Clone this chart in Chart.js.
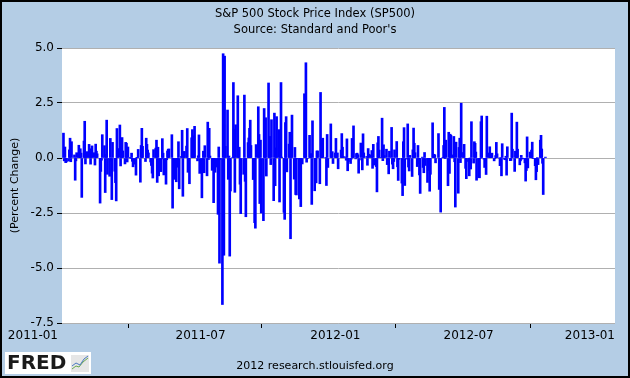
<!DOCTYPE html>
<html>
<head>
<meta charset="utf-8">
<script src="https://cdn.jsdelivr.net/npm/chart.js@4.4.0/dist/chart.umd.min.js"></script>
<style>
  html, body { margin: 0; padding: 0; background: #b4cde5; }
  #wrap { position: relative; width: 630px; height: 378px; }
</style>
</head>
<body>
<div id="wrap"><canvas id="mycanvas" width="630" height="378"></canvas></div>
<script>
// S&P 500 daily percent change, one row per week (Mon..Fri), null = market closed
var weeks2011Start = '2011-01-03';
var pct2011 = [
   1.13, -0.13,  0.50, -0.21, -0.18,
  -0.14,  0.37,  0.90, -0.17,  0.74,
   null,  0.14, -1.01, -0.13,  0.24,
   0.58,  0.03,  0.42,  0.22, -1.79,
   0.77,  1.67, -0.27,  0.24,  0.29,
   0.62,  0.42, -0.28,  0.07,  0.55,
   0.24, -0.32,  0.63,  0.31,  0.19,
   null, -2.05, -0.61, -0.10,  1.06,
   0.56, -1.57,  0.16,  1.72, -0.74,
  -0.83,  0.89, -0.14, -1.89,  0.71,
  -0.60, -1.12, -1.95,  1.34,  0.43,
   1.50, -0.36,  0.29,  0.93,  0.32,
  -0.27,  0.71,  0.67, -0.18,  0.50,
   0.03, -0.02,  0.22, -0.15, -0.40,
  -0.28, -0.78,  0.02,  0.01,  0.39,
  -1.10,  0.57,  1.35,  0.53,  null,
  -0.16,  0.90,  0.62,  0.36,  0.23,
  -0.18, -0.34, -0.69, -0.91,  0.38,
   0.45,  0.81, -1.11,  0.49, -0.81,
  -0.62, -0.04,  0.88,  0.22, -0.77,
  -1.19, -0.08,  0.32,  0.40,  0.41,
   null,  1.06, -2.28, -0.12, -0.97,
  -1.08, -0.10, -0.42,  0.74, -1.40,
   0.07,  1.26, -1.74,  0.18,  0.30,
   0.54,  1.34, -0.65, -0.28, -1.17,
   0.92,  1.29,  0.83,  1.01,  1.44,
   null, -0.13,  0.10,  1.05, -0.70,
  -1.81, -0.44,  0.31, -0.67,  0.56,
  -0.81,  1.63, -0.07,  1.35,  0.09,
  -0.56, -0.41, -2.03, -0.32, -0.65,
  -0.41, -2.56,  0.50, -4.78, -0.06,
  -6.66,  4.74, -4.42,  4.63,  0.53,
   2.18, -0.97,  0.09, -4.46, -1.50,
   0.03,  3.43,  1.31, -1.56,  1.51,
   2.83,  0.23,  0.49, -1.19, -2.53,
   null, -0.74,  2.86, -1.06, -2.67,
   0.70,  0.91,  1.35,  1.72,  0.57,
  -0.98, -0.17, -2.94, -3.19,  0.61,
   2.33,  1.07, -2.07,  0.81, -2.50,
  -2.85,  2.25,  1.79,  1.83, -0.82,
   3.41,  0.05,  0.98, -0.30,  1.74,
  -1.94,  2.04, -1.26,  0.46,  1.88,
   1.29, -2.00,  1.05,  3.43,  0.04,
  -2.47, -2.79,  1.61,  1.88, -0.63,
   0.63,  1.17, -3.67,  0.86,  1.95,
  -0.96,  0.48, -1.66, -1.68, -0.04,
  -1.86, -0.41, -2.21,  null, -0.27,
   2.92,  0.22,  4.33, -0.19, -0.02,
   1.03,  0.11,  0.20, -2.11,  1.69,
  -1.49, -0.87, -1.13,  0.32,  0.32,
  -1.17,  2.98,  0.19,  0.83,  0.90,
   null,  0.01, -1.25,  1.07, -0.43
];

var weeks2012Start = '2012-01-02';
var pct2012 = [
   null,  1.55,  0.02,  0.29, -0.25,
   0.23,  0.89,  0.03,  0.23, -0.49,
   null,  0.36,  1.11,  0.49,  0.07,
   0.05, -0.10,  0.87, -0.58, -0.16,
  -0.25, -0.05,  0.89,  0.11,  1.46,
  -0.04,  0.20,  0.22,  0.15, -0.69,
   0.68, -0.09, -0.54,  1.10,  0.23,
   null,  0.07, -0.33,  0.43,  0.17,
   0.14,  0.34, -0.47,  0.62, -0.32,
  -0.39, -1.54,  0.69,  0.98,  0.36,
   0.02,  1.81, -0.12,  0.60,  0.11,
   0.40, -0.30, -0.19, -0.72,  0.31,
   1.39, -0.28, -0.49, -0.16,  0.37,
   0.75, -0.40, -1.02, -0.06,  null,
  -1.14, -1.71,  0.74,  1.38, -1.25,
  -0.05,  1.55, -0.41, -0.59,  0.12,
  -0.84,  0.37,  1.36,  0.67,  0.24,
  -0.39,  0.57, -0.25, -0.77, -1.61,
   0.04, -0.43, -0.67,  0.25, -0.34,
  -1.11, -0.57, -0.44, -1.51, -0.74,
   1.60,  0.05,  0.17,  0.14, -0.22,
   null,  1.11, -1.43, -0.23, -2.46,
   0.01,  0.57,  2.30, -0.01,  0.81,
  -1.26,  1.17, -0.70,  1.08,  1.03,
   0.14,  0.98, -0.17, -2.23,  0.72,
  -1.60,  0.48,  0.90, -0.21,  2.49,
   0.25,  0.62,  null, -0.47, -0.94,
  -0.16, -0.81,  0.00, -0.50,  1.65,
  -0.23,  0.74,  0.67,  0.27, -1.01,
  -0.89, -0.90, -0.03,  1.65,  1.91,
  -0.05, -0.43, -0.29, -0.75,  1.90,
   0.23,  0.51,  0.06,  0.04,  0.22,
  -0.13, -0.01,  0.11,  0.71,  0.19,
   0.00, -0.35,  0.02, -0.81,  0.65,
  -0.05, -0.08,  0.08, -0.78,  0.51,
   null, -0.12, -0.11,  2.04,  0.40,
  -0.61,  0.31,  0.21,  1.63,  0.40,
  -0.31, -0.13,  0.12, -0.05, -0.01,
  -0.22, -1.05, -0.57,  0.96, -0.45,
   0.27,  0.09,  0.36,  0.72, -0.03,
  -0.35, -0.99, -0.62,  0.02, -0.30,
   0.81,  1.03,  0.41, -0.24, -1.66,
   0.04
];

var axisStart = '2011-01-01';
var axisEnd = '2013-01-25';
var xTickDates = ['2011-01-01', '2011-07-01', '2012-01-01', '2012-07-01', '2013-01-01'];
var xTickLabels = ['2011-01', '2011-07', '2012-01', '2012-07', '2013-01'];
var yTicks = [5.0, 2.5, 0.0, -2.5, -5.0, -7.5];

// days since axisStart
function dayNum(s) {
  var p = s.split('-');
  var a = axisStart.split('-');
  return (Date.UTC(+p[0], p[1] - 1, +p[2]) - Date.UTC(+a[0], a[1] - 1, +a[2])) / 86400000;
}

function toPoints(start, vals) {
  var pts = [];
  var d0 = dayNum(start);
  for (var i = 0; i < vals.length; i++) {
    if (vals[i] === null) continue;
    pts.push({ x: d0 + Math.floor(i / 5) * 7 + (i % 5), y: vals[i] });
  }
  return pts;
}

var points = toPoints(weeks2011Start, pct2011).concat(toPoints(weeks2012Start, pct2012));
var tickDays = xTickDates.map(dayNum);

Chart.defaults.font.family = "'DejaVu Sans', Verdana, sans-serif";
Chart.defaults.font.size = 12;
Chart.defaults.color = '#000';

var fredFrame = {
  id: 'fredFrame',
  beforeDraw: function(chart) {
    var c = chart.ctx, a = chart.chartArea;
    c.save();
    c.fillStyle = '#b4cde5';
    c.fillRect(0, 0, chart.width, chart.height);
    c.fillStyle = '#fff';
    c.fillRect(a.left, a.top, a.right - a.left, a.bottom - a.top);
    c.restore();
  },
  afterDraw: function(chart) {
    var c = chart.ctx, a = chart.chartArea, xs = chart.scales.x;
    c.save();
    c.fillStyle = '#000';
    c.textBaseline = 'middle';

    // x labels: end labels pulled inside the frame like the original
    c.font = "12px 'DejaVu Sans'";
    for (var i = 0; i < tickDays.length; i++) {
      var px = xs.getPixelForValue(tickDays[i]);
      if (i === 0) { c.textAlign = 'right'; px = px - 4; }
      else if (i === tickDays.length - 1) { c.textAlign = 'right'; px = a.right; }
      else { c.textAlign = 'center'; px = px + 6; }
      c.fillText(xTickLabels[i], px, a.bottom + 13);
    }

    c.textAlign = 'center';
    c.font = "11.5px 'DejaVu Sans'";
    c.fillText('S&P 500 Stock Price Index (SP500)', 315, 14);
    c.fillText("Source: Standard and Poor's", 315, 30);
    c.font = "11px 'DejaVu Sans'";
    c.fillText('2012 research.stlouisfed.org', 315, 366);

    // FRED logo
    c.fillStyle = '#fff';
    c.fillRect(5, 352, 86, 22);
    c.fillStyle = '#1a1a1a';
    c.textAlign = 'left';
    c.font = "bold 20px 'DejaVu Sans'";
    c.fillText('FRED', 7, 364);
    c.fillStyle = '#e6e6e6';
    c.fillRect(71, 355, 18, 17);
    c.strokeStyle = '#6aa84f';
    c.lineWidth = 1;
    c.beginPath();
    c.moveTo(72, 369); c.lineTo(76, 366); c.lineTo(79, 367); c.lineTo(83, 362); c.lineTo(88, 358);
    c.stroke();
    c.strokeStyle = '#4a78c0';
    c.beginPath();
    c.moveTo(72, 366); c.lineTo(76, 363); c.lineTo(80, 365); c.lineTo(84, 359); c.lineTo(88, 356);
    c.stroke();

    // outer frame
    c.strokeStyle = '#000';
    c.lineWidth = 2;
    c.strokeRect(1, 1, chart.width - 2, chart.height - 2);
    c.restore();
  }
};

var ctx = document.getElementById('mycanvas');

var barGraph = new Chart(ctx, {
  type: 'bar',
  data: {
    datasets: [{
      label: 'SP500',
      data: points,
      backgroundColor: '#0000ff',
      borderWidth: 0,
      barThickness: 2,
      grouped: false
    }]
  },
  options: {
    responsive: false,
    animation: false,
    devicePixelRatio: 1,
    layout: { padding: { top: 48, right: 15, bottom: 0, left: 0 } },
    plugins: {
      legend: { display: false },
      tooltip: { enabled: false },
      title: { display: false }
    },
    scales: {
      x: {
        type: 'linear',
        min: dayNum(axisStart),
        max: dayNum(axisEnd),
        offset: false,
        afterBuildTicks: function(axis) {
          axis.ticks = tickDays.map(function(v) { return { value: v }; });
        },
        afterFit: function(axis) { axis.height = 55; },
        ticks: { display: false },
        grid: { drawOnChartArea: false, drawTicks: true, tickLength: 5, tickColor: '#000' },
        border: { display: false }
      },
      y: {
        min: yTicks[yTicks.length - 1],
        max: yTicks[0],
        afterBuildTicks: function(axis) {
          axis.ticks = yTicks.map(function(v) { return { value: v }; });
        },
        afterFit: function(axis) { axis.width = 62; },
        ticks: {
          padding: 3,
          callback: function(value) { return value.toFixed(1); }
        },
        title: {
          display: true,
          text: '(Percent Change)',
          font: { size: 11 },
          padding: { top: 9, bottom: 0 }
        },
        grid: { color: '#b0b0b0', lineWidth: 1, tickLength: 5, tickColor: '#000' },
        border: { display: false }
      }
    }
  },
  plugins: [fredFrame]
});
</script>
</body>
</html>
